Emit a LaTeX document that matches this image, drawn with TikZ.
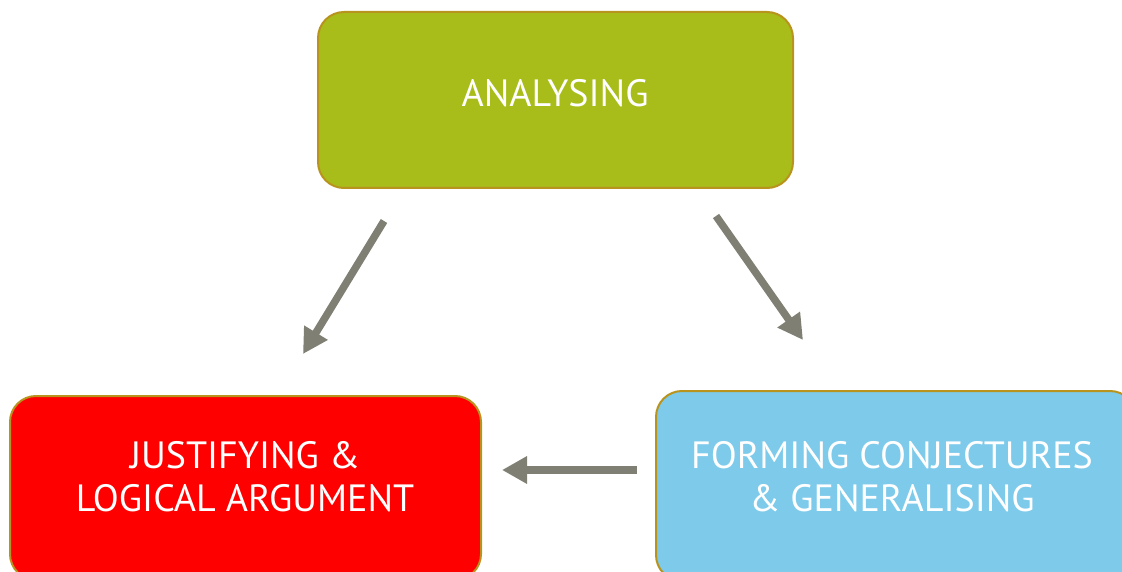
\documentclass[tikz,border=0pt]{standalone}
\usepackage{fontspec}
\setmainfont{PT Sans}
\usetikzlibrary{arrows.meta}
\definecolor{boxgreen}{HTML}{A8BC1A}
\definecolor{boxred}{HTML}{FF0000}
\definecolor{boxblue}{HTML}{7DCAEA}
\definecolor{boxedge}{HTML}{B8941E}
\definecolor{arrowgray}{HTML}{7F7F74}
\tikzset{
  box/.style={draw=boxedge, line width=2pt, rounded corners=26pt, inner sep=0pt},
  lbl/.style={text=white, font=\fontsize{38}{43}\selectfont, align=center, inner sep=0pt},
  flow/.style={draw=arrowgray, line width=7.5pt, -{Triangle[length=25pt,width=26pt]}},
}
\begin{document}
\begin{tikzpicture}[x=1pt,y=-1pt]
\useasboundingbox (0,0) rectangle (1122,572);
\clip (0,0) rectangle (1122,572);
% boxes
\node[box, fill=boxgreen, minimum width=475pt, minimum height=176pt] (ana) at (555.5,100) {};
\node[box, fill=boxred, minimum width=471pt, minimum height=184pt] (jus) at (245.5,488) {};
\node[box, fill=boxblue, minimum width=480pt, minimum height=190pt] (for) at (896,486) {};
% labels
\node[lbl] (anat) at (555,93) {ANALYSING};
\node[lbl] (just) at (245,477) {JUSTIFYING \&\\LOGICAL ARGUMENT};
\node[lbl] (fort) at (892,477) {FORMING CONJECTURES\\\& GENERALISING};
% arrow end points
\coordinate (a1s) at (384,221);
\coordinate (a1e) at (303,354);
\coordinate (a2s) at (716,216);
\coordinate (a2e) at (803,340);
\coordinate (a3s) at (637,470);
\coordinate (a3e) at (502,470);
\draw[flow] (a1s) -- (a1e);
\draw[flow] (a2s) -- (a2e);
\draw[flow] (a3s) -- (a3e);
\end{tikzpicture}
\end{document}
